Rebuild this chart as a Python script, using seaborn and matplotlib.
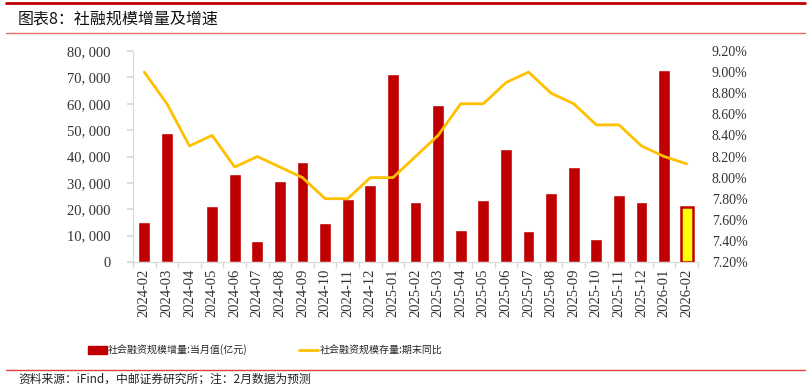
import matplotlib
matplotlib.use("Agg")
import matplotlib.pyplot as plt
import seaborn as sns
import pandas as pd
from matplotlib.patches import Patch
from matplotlib.lines import Line2D
from matplotlib.ticker import FuncFormatter, FixedLocator

months = ["2024-02", "2024-03", "2024-04", "2024-05", "2024-06", "2024-07", "2024-08",
          "2024-09", "2024-10", "2024-11", "2024-12", "2025-01", "2025-02", "2025-03",
          "2025-04", "2025-05", "2025-06", "2025-07", "2025-08", "2025-09", "2025-10",
          "2025-11", "2025-12", "2026-01", "2026-02"]
tsf_flow = [15300, 49000, 500, 21200, 33400, 8100, 30700, 38100, 14600, 23900, 29100,
            71200, 22700, 59700, 12100, 23500, 42800, 11700, 26200, 35900, 8600,
            25400, 22600, 72700, 21000]
tsf_yoy = [9.0, 8.7, 8.3, 8.4, 8.1, 8.2, 8.1, 8.0, 7.8, 7.8, 8.0, 8.0, 8.2, 8.4,
           8.7, 8.7, 8.9, 9.0, 8.8, 8.7, 8.5, 8.5, 8.3, 8.2, 8.13]
bar_label = "社会融资规模增量:当月值(亿元)"
line_label = "社会融资规模存量:期末同比"
title = "图表8：社融规模增量及增速"
source = "资料来源：iFind，中邮证券研究所；注：2月数据为预测"

sns.set_theme(style="white")
plt.rcParams["font.family"] = ["Noto Sans CJK SC", "DejaVu Sans"]

df = pd.DataFrame({"month": months, "flow": tsf_flow, "yoy": tsf_yoy,
                   "idx": range(len(months))})

RED = "#C00000"
GOLD = "#FFC000"
serif = "Liberation Serif"

fig = plt.figure(figsize=(8.11, 3.84), dpi=100)
ax = fig.add_axes([133/811, 1-262/384, (698-133)/811, (262-51)/384])

palette = [RED] * (len(months) - 1) + ["#FFFF00"]
sns.barplot(data=df, x="month", y="flow", hue="month", palette=palette,
            legend=False, width=0.52, ax=ax, saturation=1)
last = ax.patches[-1]
last.set_edgecolor(RED)
last.set_linewidth(1.8)

ax.set_xlim(-0.5, len(months) - 0.5)
ax.set_ylim(0, 80000)
ax.set_yticks(range(0, 80001, 10000))
ax.yaxis.set_major_formatter(FuncFormatter(lambda v, p: "0" if v == 0 else f"{int(v):,}".replace(",", ", ")))
ax.set_xlabel("")
ax.set_ylabel("")
for s in ["top", "right"]:
    ax.spines[s].set_visible(False)
for s in ["left", "bottom"]:
    ax.spines[s].set_color("#D9D9D9")
    ax.spines[s].set_linewidth(0.8)
ax.tick_params(axis="y", which="major", left=True, length=4, color="#D9D9D9",
               labelsize=10.5, labelcolor="#333333", pad=12)
ax.tick_params(axis="x", which="major", length=0, labelsize=10.5,
               labelcolor="#333333", pad=5)
ax.xaxis.set_minor_locator(FixedLocator([i + 0.5 for i in range(-1, len(months))]))
ax.tick_params(axis="x", which="minor", bottom=True, length=4, color="#D9D9D9")
for lab in ax.get_xticklabels():
    lab.set_rotation(90)
    lab.set_fontfamily(serif)
for lab in ax.get_yticklabels():
    lab.set_fontfamily(serif)

ax2 = ax.twinx()
sns.lineplot(data=df, x="idx", y="yoy", color=GOLD, linewidth=2, ax=ax2)
ax2.set_xlim(-0.5, len(months) - 0.5)
ax2.set_ylim(7.2, 9.2)
ax2.set_yticks([7.2 + 0.2 * i for i in range(11)])
ax2.yaxis.set_major_formatter(FuncFormatter(lambda v, p: f"{v:.2f}%"))
ax2.set_ylabel("")
ax2.set_xlabel("")
for s in ax2.spines.values():
    s.set_visible(False)
ax2.tick_params(axis="y", length=0, labelsize=10, labelcolor="#333333", pad=10)
for lab in ax2.get_yticklabels():
    lab.set_fontfamily(serif)

handles = [Patch(facecolor=RED, edgecolor=RED),
           Line2D([0], [0], color=GOLD, linewidth=2)]
fig.legend(handles, [bar_label, line_label], loc="center",
           bbox_to_anchor=(265/811, 1-350/384), ncol=2, frameon=False,
           fontsize=7.2, handlelength=1.9, handleheight=0.9, handletextpad=0.1,
           columnspacing=5.2)

fig.text(18/811, 1-19/384, title, fontsize=11.5, va="center", ha="left", color="#111111")
fig.add_artist(Line2D([6/811, 805/811], [1-3/384, 1-3/384], color=RED, linewidth=2))
fig.add_artist(Line2D([6/811, 805/811], [1-33/384, 1-33/384], color="#E07070", linewidth=1))
fig.add_artist(Line2D([6/811, 805/811], [1-370/384, 1-370/384], color="#E04040", linewidth=1))
fig.text(18/811, 1-372/384, source, fontsize=8.5, va="top", ha="left", color="#222222")

fig.savefig("out.png", dpi=100)
